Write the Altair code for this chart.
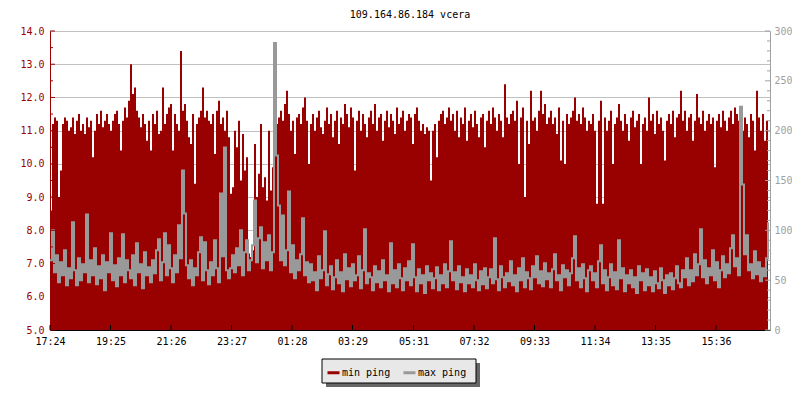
import altair as alt
import pandas as pd

chart_title = "109.164.86.184 vcera"
tick_labels = ["17:24", "19:25", "21:26", "23:27", "01:28", "03:29",
               "05:31", "07:32", "09:33", "11:34", "13:35", "15:36"]
series_names = ["min ping", "max ping"]
step_minutes = 4

# min ping (left axis, ms) - one value every 4 minutes from 17:24
min_ping = [
    8.6, 11.2, 11.4, 11.3, 9.0, 9.8, 11.2, 11.4, 11.3, 11.0,
    11.1, 11.4, 10.9, 11.3, 11.5, 11.0, 11.2, 10.9, 11.4, 11.1,
    11.3, 10.2, 11.0, 11.5, 11.2, 11.6, 11.1, 11.3, 11.5, 11.2,
    11.0, 11.3, 11.5, 11.6, 11.2, 10.4, 11.3, 11.7, 11.4, 11.9,
    13.0, 12.1, 12.3, 11.6, 11.4, 11.1, 11.5, 11.2, 10.7, 11.3,
    10.4, 11.5, 11.2, 11.6, 10.9, 11.0, 12.3, 11.2, 11.5, 11.7,
    11.8, 10.4, 11.5, 11.2, 11.0, 13.4, 11.6, 11.8, 11.3, 10.8,
    10.6, 11.5, 9.4, 11.2, 11.4, 11.6, 12.3, 11.4, 11.6, 11.3,
    11.2, 11.5, 10.3, 11.6, 11.9, 11.2, 11.4, 11.0, 11.6, 10.8,
    9.1, 9.3, 11.0, 10.5, 11.3, 9.5, 10.9, 9.8, 10.2, 7.3,
    7.2, 7.4, 10.6, 9.0, 9.7, 11.2, 9.3, 9.6, 8.9, 11.0,
    9.2, 9.9, 10.5, 11.2, 11.4, 11.6, 11.3, 11.8, 12.2, 11.5,
    11.0, 11.3, 10.3, 11.4, 11.5, 11.2, 11.7, 12.0, 11.3, 10.0,
    11.2, 11.5, 11.0, 11.4, 11.6, 11.1, 10.9, 11.3, 11.7, 11.2,
    11.5, 10.8, 11.3, 11.6, 10.6, 11.4, 11.2, 11.8, 11.5, 11.1,
    11.7, 11.4, 9.8, 11.3, 11.6, 11.0, 11.5, 11.2, 10.8, 11.4,
    11.6, 11.2, 11.8, 11.0, 11.4, 11.5, 10.7, 11.3, 11.6, 11.1,
    11.5, 11.3, 10.9, 11.7, 11.2, 11.4, 11.6, 11.0, 11.3, 11.5,
    11.4, 10.6, 11.5, 11.7, 11.3, 11.0, 11.2, 10.9, 11.1, 11.0,
    9.5, 11.0, 11.2, 10.2, 11.3, 11.5, 11.6, 11.2, 11.4, 11.7,
    11.3, 11.5, 11.0, 11.6, 10.8, 11.4, 11.2, 11.7, 10.7, 11.3,
    11.5, 11.1, 11.6, 11.2, 10.8, 11.4, 11.5, 10.5, 11.3, 11.6,
    11.2, 11.7, 11.4, 11.0, 11.5, 11.3, 10.8, 12.4, 11.4, 11.2,
    11.5, 11.6, 11.3, 11.9, 10.0, 11.4, 11.7, 9.0, 11.3, 10.6,
    12.2, 11.3, 11.4, 11.0, 11.6, 12.2, 11.5, 11.8, 11.2, 11.4,
    11.6, 11.2, 11.4, 10.9, 11.7, 10.1, 11.3, 10.0, 11.5, 11.2,
    11.4, 11.6, 12.0, 11.3, 11.5, 11.2, 11.7, 11.4, 11.0, 11.3,
    11.2, 11.5, 11.0, 8.8, 11.3, 11.9, 8.8, 11.4, 11.0, 11.3,
    11.6, 10.0, 11.2, 11.4, 11.8, 11.3, 11.0, 11.5, 11.2, 10.7,
    11.4, 11.6, 11.1, 11.3, 11.5, 10.0, 11.2, 11.4, 11.0, 12.0,
    11.3, 11.5, 10.9, 11.6, 11.2, 11.4, 11.0, 10.1, 11.3, 11.5,
    11.2, 11.6, 10.8, 11.4, 11.5, 12.2, 11.3, 11.6, 11.0, 11.4,
    11.5, 10.7, 11.3, 12.1, 11.4, 11.2, 11.6, 11.0, 11.3, 11.5,
    11.2, 11.4, 9.9, 11.3, 11.5, 11.1, 11.6, 11.3, 11.0, 11.4,
    11.6, 11.2, 11.7, 11.5, 11.3, 11.6, 11.0, 11.4, 11.2, 10.8,
    11.5, 11.3, 10.4, 12.2, 11.4, 11.0, 11.5, 10.7, 11.3, 11.0,
]

# max ping (right axis, ms)
max_ping = [
    70, 100, 58, 75, 48, 68, 55, 80, 45, 62,
    52, 108, 60, 45, 72, 50, 66, 58, 116, 48,
    70, 55, 82, 46, 64, 52, 75, 40, 68, 58,
    97, 50, 65, 44, 72, 55, 96, 48, 70, 60,
    52, 75, 45, 87, 58, 66, 42, 78, 55, 63,
    48, 70, 57, 80, 91, 50, 68, 97, 55, 85,
    62, 48, 75, 58, 105, 72, 160, 117, 65, 52,
    70, 45, 62, 55, 78, 93, 50, 88, 60, 46,
    68, 55, 90, 62, 48, 137, 74, 183, 60, 52,
    62, 75, 58, 82, 65, 100, 55, 78, 90, 60,
    70, 85, 130, 68, 92, 103, 62, 88, 70, 95,
    60, 78, 288, 175, 125, 70, 115, 65, 80, 139,
    58, 85, 52, 70, 60, 76, 112, 55, 68, 48,
    66, 50, 58, 40, 74, 52, 60, 99, 45, 56,
    64, 41, 53, 70, 47, 58, 39, 76, 51, 62,
    44, 66, 50, 55, 74, 42, 60, 101, 47, 57,
    53, 40, 64, 48, 59, 43, 70, 50, 55, 39,
    87, 47, 60, 43, 66, 52, 40, 62, 50, 69,
    45, 86, 53, 39, 61, 47, 55, 37, 64, 50,
    57, 42, 52, 63, 40, 55, 47, 66, 43, 59,
    89, 50, 58, 41, 64, 48, 53, 39, 61, 47,
    55, 43, 66, 50, 40, 59, 46, 62, 42, 53,
    61, 47, 92, 51, 40, 64, 53, 43, 57, 49,
    69, 45, 55, 39, 62, 50, 72, 43, 58, 52,
    41, 64, 53, 74, 47, 59, 44, 67, 51, 57,
    43, 61, 76, 50, 55, 40, 65, 53, 60, 45,
    57, 72, 94, 50, 62, 43, 66, 52, 39, 60,
    64, 50, 57, 43, 69, 85, 47, 60, 40, 53,
    66, 45, 58, 41, 90, 52, 62, 39, 55, 47,
    60, 43, 53, 37, 64, 50, 57, 40, 61, 45,
    53, 39, 59, 47, 42, 62, 50, 37, 55, 45,
    57, 41, 52, 64, 47, 43, 60, 53, 72, 45,
    60, 49, 76, 55, 66, 101, 53, 70, 47, 62,
    55, 80, 50, 68, 43, 60, 74, 53, 66, 57,
    82, 95, 64, 72, 55, 224, 146, 76, 95, 60,
    66, 52, 79, 56, 68, 49, 62, 54, 72, 108,
]

assert len(min_ping) == len(max_ping)

RED = "#990000"
GRAY = "#999999"
AXGRAY = "#a0a0a0"
FONT = "DejaVu Sans Mono"
W, H = 720, 299


def minutes_from_start(label, start="17:24"):
    h, m = map(int, label.split(":"))
    h0, m0 = map(int, start.split(":"))
    return ((h * 60 + m) - (h0 * 60 + m0)) % 1440


tick_values = [minutes_from_start(l) for l in tick_labels]
left_major = [5 + k for k in range(10)]
left_minor = [5.5 + k for k in range(9)]
right_major = [50 * k for k in range(7)]
right_minor = [10 * k for k in range(31) if k % 5 != 0]

df = pd.DataFrame({
    "t": [i * step_minutes for i in range(len(min_ping))],
    "min": min_ping,
    "max": max_ping,
})

x_scale = alt.Scale(domain=[0, 1440], nice=False, zero=False)
left_scale = alt.Scale(domain=[5, 14], nice=False, zero=False)
right_scale = alt.Scale(domain=[0, 300], nice=False, zero=False)

label_expr = " : ".join(
    "datum.value == %d ? '%s'" % (v, l) for v, l in zip(tick_values, tick_labels)
) + " : ''"

x_axis = alt.Axis(values=tick_values, labelExpr=label_expr, title=None,
                  ticks=False, grid=False, domainColor="black",
                  labelColor="black", labelFont=FONT, labelFontSize=10,
                  labelPadding=6, labelFlush=False, labelOverlap=False)

left_axis = alt.Axis(orient="left", values=left_major, format=".1f", title=None,
                     ticks=False, grid=True, gridColor="#c0c0c0",
                     domainColor=RED, labelColor=RED, labelFont=FONT,
                     labelFontSize=10, labelPadding=6)

right_axis = alt.Axis(orient="right", values=right_major, title=None,
                      ticks=False, grid=False, domainColor=AXGRAY,
                      labelColor=AXGRAY, labelFont=FONT, labelFontSize=10,
                      labelPadding=4)

area = alt.Chart(df).mark_area(color=RED, interpolate="step-after").encode(
    x=alt.X("t:Q", scale=x_scale, axis=x_axis),
    y=alt.Y("min:Q", scale=left_scale, axis=left_axis),
    y2=alt.Y2Datum(5),
)

line = alt.Chart(df).transform_calculate(series="'max ping'").mark_line(
    interpolate="step-after", strokeWidth=2
).encode(
    x=alt.X("t:Q", scale=x_scale, axis=x_axis),
    y=alt.Y("max:Q", scale=right_scale, axis=right_axis),
    color=alt.Color("series:N",
                    scale=alt.Scale(domain=series_names, range=[RED, GRAY]),
                    legend=alt.Legend(orient="none", legendX=276, legendY=334,
                                      direction="horizontal", title=None,
                                      symbolType="stroke", symbolStrokeWidth=3,
                                      symbolSize=144, labelFont=FONT,
                                      labelFontSize=10, labelColor="black",
                                      labelOffset=1, columnPadding=6, padding=0)),
)


def tick_layer(values, scale, x0, x1, color):
    return alt.Chart(pd.DataFrame({"v": values})).mark_rule(color=color).encode(
        y=alt.Y("v:Q", scale=scale, axis=None),
        x=alt.value(x0), x2=alt.value(x1),
    )


lt_major = tick_layer(left_major, left_scale, 0, 5, RED)
lt_minor = tick_layer(left_minor, left_scale, 0, 3, RED)
rt_major = tick_layer(right_major, right_scale, W - 5, W, AXGRAY)
rt_minor = tick_layer(right_minor, right_scale, W - 3, W, AXGRAY)

bt = alt.Chart(pd.DataFrame({"v": tick_values})).mark_rule(color="black").encode(
    x=alt.X("v:Q", scale=x_scale, axis=x_axis),
    y=alt.value(H - 5), y2=alt.value(H),
)

one = alt.Data(values=[{"k": 1}])
shadow = alt.Chart(one).mark_rect(color="#666666").encode(
    x=alt.value(276), x2=alt.value(430), y=alt.value(332), y2=alt.value(356))
box = alt.Chart(one).mark_rect(fill="#e8e8e8", stroke="black", strokeWidth=1).encode(
    x=alt.value(272), x2=alt.value(426), y=alt.value(328), y2=alt.value(352))

chart = alt.layer(
    area, line, lt_major, lt_minor, rt_major, rt_minor, bt, shadow, box
).resolve_scale(y="independent").properties(
    width=W, height=H,
    title=alt.TitleParams(chart_title, font=FONT, fontSize=10,
                          fontWeight="normal", color="black",
                          anchor="middle", offset=6),
    autosize=alt.AutoSizeParams(type="none"),
    padding={"left": 42, "top": 23, "right": 22, "bottom": 62},
).configure_view(stroke=None).configure(background="white")

chart.save("out.html", embed_options={"renderer": "svg", "actions": False})
